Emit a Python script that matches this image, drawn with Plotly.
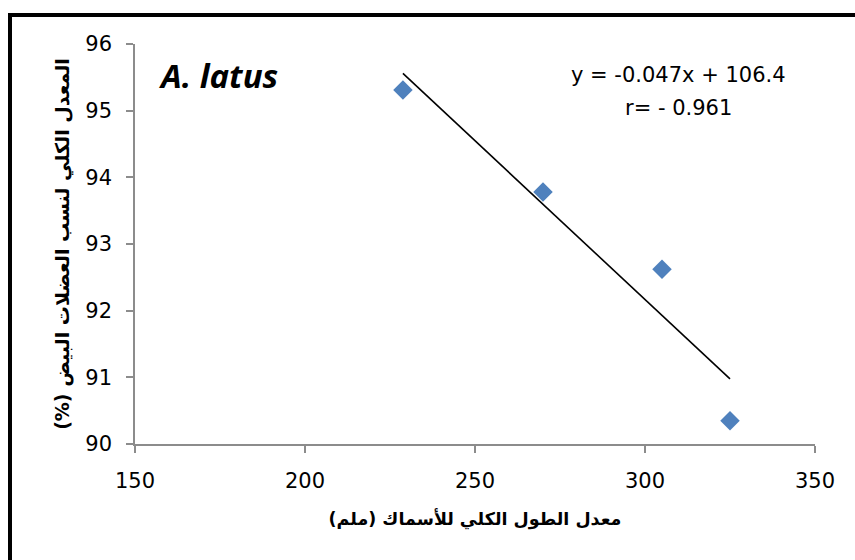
import numpy as np
import plotly.graph_objects as go

# Data
lengths = [228.8, 270.0, 305.0, 325.0]          # mean total fish length (mm)
white_muscle = [95.31, 93.78, 92.62, 90.35]     # mean white muscle ratio (%)
x_ticks = [150, 200, 250, 300, 350]
y_ticks = [90, 91, 92, 93, 94, 95, 96]

species_label = "A. latus"
equation_label = "y = -0.047x + 106.4"
r_label = "r= - 0.961"
x_title = "معدل الطول الكلي للأسماك (ملم)"
y_title = "المعدل الكلي لنسب العضلات البيض (%)"

# Linear trendline fitted from the data
slope, intercept = np.polyfit(lengths, white_muscle, 1)
trend_x = [min(lengths), max(lengths)]
trend_y = [slope * v + intercept for v in trend_x]

W, H = 855, 560
L, R, T, B = 135, 40, 44, 116
pw, ph = W - L - R, H - T - B

RLM = "\u200f"

fig = go.Figure()
fig.add_trace(go.Scatter(
    x=lengths, y=white_muscle, mode="markers",
    marker=dict(symbol="diamond", size=15, color="#4F81BD", line=dict(width=0)),
    showlegend=False, hoverinfo="x+y"))
fig.add_trace(go.Scatter(
    x=trend_x, y=trend_y, mode="lines",
    line=dict(color="black", width=1.6),
    showlegend=False, hoverinfo="skip"))

tick_font = dict(family="DejaVu Sans", size=21, color="#000000")
axis_common = dict(
    showgrid=False, zeroline=False, showline=True, linecolor="#8C8C8C", linewidth=1.5,
    ticks="outside", ticklen=7, tickwidth=1.5, tickcolor="#8C8C8C",
    tickfont=tick_font, mirror=False)

fig.update_xaxes(range=[150, 350], tickvals=x_ticks, ticktext=[str(v) for v in x_ticks],
                 ticklabelstandoff=10,
                 title=dict(text="<b>" + RLM + x_title + RLM + "</b>",
                            font=dict(family="DejaVu Sans", size=17.5, color="black"),
                            standoff=21),
                 **axis_common)
fig.update_yaxes(range=[90, 96], tickvals=y_ticks, ticktext=[str(v) for v in y_ticks],
                 ticklabelstandoff=10,
                 title=dict(text="<b>" + RLM + y_title + RLM + "</b>",
                            font=dict(family="DejaVu Sans", size=19, color="black"),
                            standoff=11),
                 **axis_common)

def px_to_paper_x(px):
    return (px - L) / pw

def px_to_paper_y(py):
    return (H - B - py) / ph

# Outer black frame (extends past the right and bottom edges)
fig.add_shape(type="rect", xref="paper", yref="paper",
              x0=px_to_paper_x(10), x1=px_to_paper_x(880),
              y0=px_to_paper_y(590), y1=px_to_paper_y(15),
              line=dict(color="black", width=4), fillcolor="rgba(0,0,0,0)", layer="above")

fig.add_annotation(text="<b><i>" + species_label + "</i></b>", xref="paper", yref="paper",
                   x=px_to_paper_x(157), y=px_to_paper_y(75), xanchor="left", yanchor="middle",
                   showarrow=False, font=dict(family="Open Sans, Arial", size=33, color="black"))
fig.add_annotation(text=equation_label, xref="paper", yref="paper",
                   x=px_to_paper_x(678), y=px_to_paper_y(75), xanchor="center", yanchor="middle",
                   showarrow=False, font=dict(family="DejaVu Sans", size=21, color="black"))
fig.add_annotation(text=r_label, xref="paper", yref="paper",
                   x=px_to_paper_x(678), y=px_to_paper_y(108), xanchor="center", yanchor="middle",
                   showarrow=False, font=dict(family="DejaVu Sans", size=21, color="black"))

fig.update_layout(width=W, height=H, margin=dict(l=L, r=R, t=T, b=B),
                  paper_bgcolor="white", plot_bgcolor="white")

fig.write_html("out.html")
